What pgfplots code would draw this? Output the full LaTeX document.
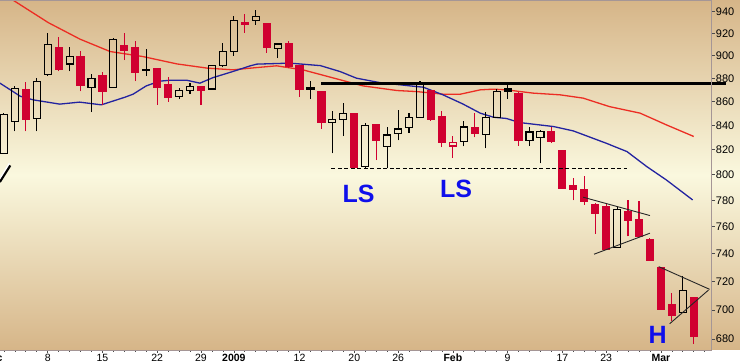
\documentclass[border=0pt]{standalone}
\usepackage{pgfplots}
\pgfplotsset{compat=1.18}
\usepackage{pgfplotstable}
\usepackage{fontspec}
\setmainfont{Liberation Sans}
\definecolor{candred}{RGB}{208,0,48}
\definecolor{mared}{RGB}{236,45,35}
\definecolor{mablue}{RGB}{35,35,160}
\definecolor{bgtan}{RGB}{214,181,136}
\definecolor{bgpale}{RGB}{250,248,222}
\definecolor{framegray}{RGB}{165,150,150}
\definecolor{lblue}{RGB}{15,15,235}

% i O H L C type (0 = falling/red, 1 = hollow black, 2 = hollow red)
\pgfplotstableread{
i O H L C t
-4 817 850.5 817 849 1
-3 843 873 835 871 1
-2 870 877 835 845 0
-1 846 880 835 877 1
0 883.6 920 882 910 1
1 907 917 886 888 0
2 892.5 908 886 899.5 1
3 899 904 868.6 873.7 0
4 872 884 851 880 1
5 882 885.5 857 868.6 0
6 872 916 872 914 1
7 909 920 896 904.5 0
8 907 912.6 877.5 885.5 0
9 887 906 882 888 1
10 888.3 888.3 857.2 872.4 0
11 875 881 860 863.4 0
12 864.2 871.5 862 869.4 1
13 869.4 876 866.5 873 1
14 873 873 857.2 869.4 0
15 870.7 891.5 870.7 891.5 1
16 891.2 911.4 889.5 903.7 1
17 903.6 936 900 931.8 1
18 930 937.8 920.3 928 0
19 932 941.6 927.6 935.7 1
20 928.6 928.6 902.7 907 0
21 906.7 910.3 897.7 910.3 1
22 910.3 913 889 890.4 0
23 891.3 891.3 864 870.4 0
24 870.7 877.5 862 872.4 1
25 868.3 868.3 837 842.4 0
26 842.4 851.8 817 844.6 1
27 845 858.6 831 850 1
28 850 850 804.6 805.4 0
29 806.7 842 805 840.2 1
30 840.5 840.5 811.5 827.7 0
31 822.3 838.6 805 832 1
32 833 852.6 827.7 837 1
33 838 850.7 834 846.8 1
34 846.8 877.6 846.8 874.3 1
35 869 869 844 845 0
36 847.3 852 822 826.3 0
37 823 831.5 813.5 825.8 2
38 826.6 843.4 822.6 838.6 1
39 838.3 850.5 830 833 0
40 832.2 851 821 846.8 1
41 846.8 871 846 868.6 1
42 869 875 862 870.7 1
43 867 868 823 827.7 0
44 827.4 838.6 823 834.5 1
45 830.2 836 809 835 1
46 834.5 839 825.8 826.9 0
47 819.2 819.2 789.2 789.2 0
48 791.3 797.4 780 788.1 0
49 788.1 799 776.6 779 0
50 776.6 778.4 754.5 769.7 0
51 775 778 742.5 743.4 0
52 744.6 776 744.6 773 1
53 771.3 780.5 752.7 764.6 0
54 765.4 779.7 752.7 752.7 0
55 750.3 751.5 734.8 734.8 0
56 729.9 729.9 700 700 0
57 704 712 692 695.8 0
58 698.2 723.6 698.2 713.5 1
59 708.2 708.2 677 681.8 0
}\candles

\pgfplotstableread{
x y
-4.0 957
-3.2 950.9
0.05 929.8
2.95 914.7
5.7 903.6
8.7 899.1
11.8 892.6
14.55 888.9
16.9 887.4
19.1 889.4
20.9 890.9
23.3 887.4
25.8 881
28.8 873.4
31.9 869.4
33.7 868.5
36.1 866.3
37.7 866.3
39.5 870
40.7 870.6
41.9 870
44.3 867.2
46.8 865.7
48.9 862.9
51.3 855.7
54.1 850.2
56.5 840.4
59 830.8
}\mared

\pgfplotstableread{
x y
-4.36 875.8
-2.5 864.5
-1.3 861.4
1.1 857.8
2.9 859.5
4.9 857.2
7.06 863.7
7.8 866.3
9.0 873.4
10.2 877.5
11.2 878.3
12.7 878.3
13.9 875.8
15.1 880.6
16.9 885.9
18.5 890.9
19.1 892.4
22.1 893.3
24.9 891.1
26.7 885.9
28.2 880.1
30.3 876.3
33.1 873.4
34.3 872.3
36.1 865.7
37.9 858
39.5 850.2
40.7 846.8
41.9 845.7
43.1 842.3
46.2 839
48.0 835.4
51.0 825.3
52.9 818.5
54.7 806.5
56.5 796
58.9 780.4
}\mablueT

\pgfplotstablegetrowsof{\candles}
\pgfmathtruncatemacro\lastrow{\pgfplotsretval-1}

\begin{document}
\begin{tikzpicture}
\useasboundingbox (0bp,-14bp) rectangle (740bp,350bp);
\fill[white] (0bp,-14bp) rectangle (740bp,0bp);
\shade[top color=bgtan, bottom color=bgtan, middle color=bgpale] (0bp,0bp) rectangle (740bp,350bp);
\begin{axis}[
  at={(0bp,0bp)}, anchor=south west,
  scale only axis, width=711.7bp, height=350bp,
  ymode=log, ymin=672.8, ymax=950.9,
  xmin=-4.356, xmax=60.64,
  clip=false,
  axis line style={draw=none},
  tick align=outside,
  ytick pos=right, xtick pos=bottom,
  yticklabel pos=right,
  ytick={680,700,720,740,760,780,800,820,840,860,880,900,920,940},
  yticklabels={680,700,720,740,760,780,800,820,840,860,880,900,920,940},
  xtick={0,5,10,14,17,23,28,32,37,42,47,51,56},
  xticklabels={8,15,22,29,\textbf{2009},12,20,26,\textbf{Feb},9,17,23,\textbf{Mar}},
  minor xtick={-4,-3,...,60},
  major tick length=3bp, minor tick length=2bp,
  every tick/.style={draw=black!70, line width=0.6bp},
  /pgf/number format/assume math mode=true,
  yticklabel style={font=\fontsize{11bp}{13bp}\selectfont, inner sep=1bp, text=black},
  xticklabel style={font=\fontsize{10.5bp}{12bp}\selectfont, inner sep=1bp, text=black},
]
% background diagonal stripe at left
\addplot[black, line width=3bp, forget plot] coordinates {(-4.4,794.5) (-3.45,807.5)};
\addplot[white, line width=1.4bp, forget plot] coordinates {(-4.45,796) (-3.5,809)};

% moving averages
\addplot[mared, line width=1.3bp, forget plot] table[x=x,y=y] {\mared};
\addplot[mablue, line width=1.3bp, forget plot] table[x=x,y=y] {\mablueT};

% candles
\pgfplotsforeachungrouped \r in {0,...,\lastrow}{%
  \pgfplotstablegetelem{\r}{i}\of\candles \let\ci\pgfplotsretval
  \pgfplotstablegetelem{\r}{O}\of\candles \let\co\pgfplotsretval
  \pgfplotstablegetelem{\r}{H}\of\candles \let\ch\pgfplotsretval
  \pgfplotstablegetelem{\r}{L}\of\candles \let\cl\pgfplotsretval
  \pgfplotstablegetelem{\r}{C}\of\candles \let\cc\pgfplotsretval
  \pgfplotstablegetelem{\r}{t}\of\candles \let\ct\pgfplotsretval
  \pgfmathsetmacro\xa{\ci-0.32}%
  \pgfmathsetmacro\xb{\ci+0.32}%
  \pgfmathsetmacro\lo{min(\co,\cc)}%
  \pgfmathsetmacro\hi{max(\co,\cc)}%
  \ifcase\ct\relax
    \def\cstyle{draw=candred,fill=candred}\def\wcol{candred}%
  \or
    \def\cstyle{draw=black,fill=none}\def\wcol{black}%
  \else
    \def\cstyle{draw=candred,fill=none}\def\wcol{candred}%
  \fi
  \edef\doit{%
    \noexpand\addplot[\wcol, line width=1.1bp, forget plot] coordinates {(\ci,\cl) (\ci,\lo)};
    \noexpand\addplot[\wcol, line width=1.1bp, forget plot] coordinates {(\ci,\hi) (\ci,\ch)};
    \noexpand\addplot[\cstyle, line width=1.1bp, forget plot] coordinates {(\xa,\lo) (\xb,\lo) (\xb,\hi) (\xa,\hi)} -- cycle;
  }\doit
}

% resistance / support lines
\addplot[black, line width=2.4bp, forget plot] coordinates {(24.96,875.4) (61.9,875.4)};
\addplot[black, line width=0.9bp, dash pattern=on 4bp off 2.5bp, forget plot] coordinates {(25.9,805.2) (52.9,805.2)};
% flag / pennant lines
\addplot[black!85, line width=0.9bp, forget plot] coordinates {(48.9,782.5) (55.0,768.4)};
\addplot[black!85, line width=0.9bp, forget plot] coordinates {(49.9,739.6) (55.0,755.1)};
\addplot[black!85, line width=0.9bp, forget plot] coordinates {(55.8,730.5) (60.45,714.3)};
\addplot[black!85, line width=0.9bp, forget plot] coordinates {(56.8,690.4) (60.35,713.8)};

% frame
\draw[framegray, line width=0.8bp] (rel axis cs:0,1) -- (rel axis cs:1,1) -- (rel axis cs:1,0) -- (rel axis cs:0,0);

% annotations
\node[text=lblue, font=\bfseries\fontsize{25bp}{25bp}\selectfont] at (axis cs:28.4,785) {LS};
\node[text=lblue, font=\bfseries\fontsize{25bp}{25bp}\selectfont] at (axis cs:37.3,789.2) {LS};
\node[text=lblue, font=\bfseries\fontsize{25bp}{25bp}\selectfont] at (axis cs:55.7,682.6) {H};
\node[anchor=north, inner sep=1bp, yshift=-3bp, font=\bfseries\fontsize{10.5bp}{12bp}\selectfont] at (axis cs:-5,672.8) {Dec};
\end{axis}
\end{tikzpicture}
\end{document}
